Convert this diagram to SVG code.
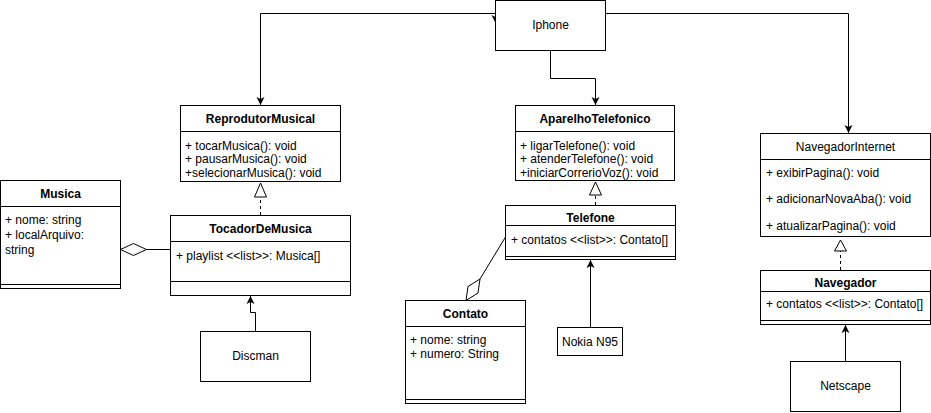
<svg xmlns="http://www.w3.org/2000/svg" width="931" height="413" viewBox="0 0 931 413">
<style>
.box{fill:#fff;stroke:#000;stroke-width:1}
.ln{fill:none;stroke:#000;stroke-width:1}
text{font-family:"Liberation Sans",Arial,sans-serif;font-size:12px;fill:#000}
.t{font-weight:bold;text-anchor:middle}
.tn{text-anchor:middle}
.c{fill:none;stroke:#000;stroke-width:1}
.d{fill:none;stroke:#000;stroke-width:1;stroke-dasharray:3,3}
.tri{fill:#fff;stroke:#000;stroke-width:1}
</style>
<defs>
<marker id="arr" markerUnits="userSpaceOnUse" markerWidth="9" markerHeight="9" refX="8" refY="4" orient="auto" viewBox="0 0 9 8">
<path d="M0,0 L8,4 L0,8 L2,4 z" fill="#000"/>
</marker>
</defs>
<rect width="931" height="413" fill="#fff"/>
<g id="connectors">
<path class="c" d="M495,13.5 H260.5 V105" marker-end="url(#arr)"/>
<path class="c" d="M605,13.5 H848.5 V133" marker-end="url(#arr)"/>
<path class="c" d="M550.5,50 V78.5 H595.5 V105" marker-end="url(#arr)"/>
<path class="c" d="M495.5,15 V23" marker-end="url(#arr)"/>
<path class="d" d="M260.5,215 V197"/>
<path class="tri" d="M254.5,197 L260.5,183 L266.5,197 Z"/>
<path class="d" d="M595.5,205 V195"/>
<path class="tri" d="M589.5,195 L595.5,182 L601.5,195 Z"/>
<path class="d" d="M840.5,270 V251"/>
<path class="tri" d="M834.5,251 L840.5,240 L846.5,251 Z"/>
<path class="c" d="M590.5,327 V260" marker-end="url(#arr)"/>
<path class="c" d="M255.5,331 V312.5 H250.5 V296" marker-end="url(#arr)"/>
<path class="c" d="M845.5,361 V325" marker-end="url(#arr)"/>
<path class="c" d="M146.5,249.5 H170.5"/>
<path class="tri" d="M120.5,249.5 L133.5,243.5 L146.5,249.5 L133.5,255.5 Z"/>
<path class="c" d="M480,279 L505.5,237"/>
<path class="tri" d="M466,300.5 L468,286.5 L480,279 L478,293 Z"/>
</g>
<g id="iphone">
<rect class="box" x="495.5" y="0.5" width="110" height="50"/>
<text class="tn" x="550.5" y="29">Iphone</text>
</g>
<g id="reprodutorMusical">
<rect class="box" x="180.5" y="105.5" width="160" height="76"/>
<line class="ln" x1="180.5" y1="131.5" x2="340.5" y2="131.5"/>
<text class="t" x="260.5" y="122.5">ReprodutorMusical</text>
<text x="185" y="149.5">+ tocarMusica(): void</text>
<text x="185" y="163">+ pausarMusica(): void</text>
<text x="185" y="177">+selecionarMusica(): void</text>
</g>
<g id="aparelhoTelefonico">
<rect class="box" x="515.5" y="105.5" width="159" height="75"/>
<line class="ln" x1="515.5" y1="131.5" x2="674.5" y2="131.5"/>
<text class="t" x="595" y="122.5">AparelhoTelefonico</text>
<text x="520" y="149.5">+ ligarTelefone(): void</text>
<text x="520" y="163">+ atenderTelefone(): void</text>
<text x="520" y="177">+iniciarCorrerioVoz(): void</text>
</g>
<g id="musica">
<rect class="box" x="0.5" y="180.5" width="120" height="108"/>
<line class="ln" x1="0.5" y1="206.5" x2="120.5" y2="206.5"/>
<line class="ln" x1="0.5" y1="284.5" x2="120.5" y2="284.5"/>
<text class="t" x="60.5" y="197.5">Musica</text>
<text x="5" y="224">+ nome: string</text>
<text x="5" y="239">+ localArquivo:</text>
<text x="5" y="254">string</text>
</g>
<g id="tocadorDeMusica">
<rect class="box" x="170.5" y="215.5" width="180" height="80"/>
<line class="ln" x1="170.5" y1="241.5" x2="350.5" y2="241.5"/>
<line class="ln" x1="170.5" y1="281.5" x2="350.5" y2="281.5"/>
<text class="t" x="260.5" y="233">TocadorDeMusica</text>
<text x="176" y="259.5">+ playlist &lt;&lt;list&gt;&gt;: Musica[]</text>
</g>
<g id="telefone">
<rect class="box" x="505.5" y="205.5" width="170" height="54"/>
<line class="ln" x1="505.5" y1="225.5" x2="675.5" y2="225.5"/>
<line class="ln" x1="505.5" y1="256.5" x2="675.5" y2="256.5"/>
<text class="t" x="590.5" y="222">Telefone</text>
<text x="511" y="244">+ contatos &lt;&lt;list&gt;&gt;: Contato[]</text>
</g>
<g id="contato">
<rect class="box" x="405.5" y="300.5" width="120" height="103"/>
<line class="ln" x1="405.5" y1="326.5" x2="525.5" y2="326.5"/>
<line class="ln" x1="405.5" y1="399.5" x2="525.5" y2="399.5"/>
<text class="t" x="465.5" y="318">Contato</text>
<text x="410" y="344">+ nome: string</text>
<text x="410" y="358">+ numero: String</text>
</g>
<g id="nokia">
<rect class="box" x="557.5" y="327.5" width="65" height="28"/>
<text class="tn" x="590" y="345.5">Nokia N95</text>
</g>
<g id="discman">
<rect class="box" x="200.5" y="331.5" width="110" height="50"/>
<text class="tn" x="255.5" y="360">Discman</text>
</g>
<g id="navegadorInternet">
<rect class="box" x="760.5" y="133.5" width="170" height="103"/>
<line class="ln" x1="760.5" y1="159.5" x2="930.5" y2="159.5"/>
<text class="tn" x="845.5" y="150.5">NavegadorInternet</text>
<text x="766" y="177">+ exibirPagina(): void</text>
<text x="766" y="203">+ adicionarNovaAba(): void</text>
<text x="766" y="229.5">+ atualizarPagina(): void</text>
</g>
<g id="navegador">
<rect class="box" x="760.5" y="270.5" width="170" height="54"/>
<line class="ln" x1="760.5" y1="291.5" x2="930.5" y2="291.5"/>
<line class="ln" x1="760.5" y1="320.5" x2="930.5" y2="320.5"/>
<text class="t" x="845.5" y="287">Navegador</text>
<text x="766" y="308">+ contatos &lt;&lt;list&gt;&gt;: Contato[]</text>
</g>
<g id="netscape">
<rect class="box" x="790.5" y="361.5" width="110" height="50"/>
<text class="tn" x="845.5" y="390">Netscape</text>
</g>
</svg>
